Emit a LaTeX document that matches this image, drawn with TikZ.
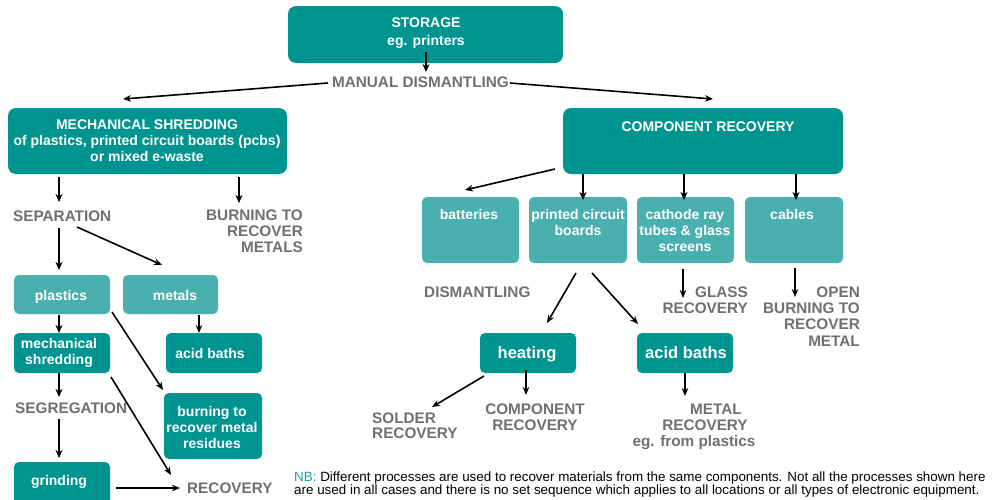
\documentclass[tikz,border=0pt]{standalone}
\usepackage{fontspec}
\setmainfont{Liberation Sans}
\usetikzlibrary{arrows.meta}
\definecolor{tealD}{RGB}{0,148,144}
\definecolor{tealL}{RGB}{74,175,175}
\definecolor{grayT}{RGB}{112,112,112}
\definecolor{tealN}{RGB}{24,160,160}
\newcommand\myfs[2]{\fontsize{#1}{#2}\selectfont}

\begin{document}
\begin{tikzpicture}[x=1pt,y=-1pt,
  arr/.style={-{Stealth[length=8pt,width=6.5pt,inset=2.5pt]}, line width=1.6pt},
  arrT/.style={-{Stealth[length=8pt,width=7pt,inset=2.5pt]}, line width=2.7pt},
  dbox/.style={fill=tealD, rounded corners=8pt, inner sep=0pt},
  sdbox/.style={fill=tealD, rounded corners=5pt, inner sep=0pt},
  lbox/.style={fill=tealL, rounded corners=5pt, inner sep=0pt},
  wtxt/.style={text=white, font=\bfseries\myfs{14}{16}, align=center, inner sep=0pt},
  wbig/.style={text=white, font=\bfseries\myfs{16.5}{18}, inner sep=0pt},
  gtxt/.style={text=grayT, font=\bfseries\myfs{15.3}{16}, inner sep=0pt},
]
\useasboundingbox (0,0) rectangle (993,499);
\begin{scope}
\clip (0,0) rectangle (993,499);

% ---------- boxes ----------
\node[dbox, minimum width=275pt, minimum height=57pt] (storage) at (425.5,34.5) {};
\node[dbox, minimum width=279pt, minimum height=66pt] (mech) at (147.5,141) {};
\node[dbox, minimum width=280pt, minimum height=66pt] (comp) at (703,141) {};

\node[lbox, minimum width=96pt, minimum height=39pt] (plastics) at (62,294.5) {};
\node[lbox, minimum width=95pt, minimum height=39pt] (metals) at (170.5,294.5) {};
\node[sdbox, minimum width=96pt, minimum height=40pt] (mechshred) at (62,353) {};
\node[sdbox, minimum width=96pt, minimum height=40pt] (acidA) at (214,353) {};
\node[sdbox, minimum width=98pt, minimum height=66pt] (burn) at (213,426) {};
\node[sdbox, minimum width=96pt, minimum height=44pt] (grinding) at (62,484) {};

\node[lbox, minimum width=97pt, minimum height=66pt] (batteries) at (470.5,230) {};
\node[lbox, minimum width=98pt, minimum height=66pt] (pcb) at (578,230) {};
\node[lbox, minimum width=97pt, minimum height=66pt] (crt) at (685.5,230) {};
\node[lbox, minimum width=98pt, minimum height=66pt] (cables) at (794,230) {};
\node[sdbox, minimum width=96pt, minimum height=40pt] (heating) at (528,353) {};
\node[sdbox, minimum width=96pt, minimum height=40pt] (acidB) at (685,353) {};

% ---------- box texts ----------
\node[wtxt, font=\bfseries\myfs{14}{18}, anchor=north] (storageT) at (426,18) {STORAGE\\eg. printers};
\node[wtxt, anchor=north] (mechT) at (147,120) {MECHANICAL SHREDDING\\of plastics, printed circuit boards (pcbs)\\or mixed e-waste};
\node[wtxt, anchor=base] (compT) at (708,131) {COMPONENT RECOVERY};
\node[wtxt, anchor=base] (plasticsT) at (61,300) {plastics};
\node[wtxt, anchor=base] (metalsT) at (175,300) {metals};
\node[wtxt, anchor=north] (mechshredT) at (59,338) {mechanical\\shredding};
\node[wtxt, anchor=base] (acidAT) at (210,358) {acid baths};
\node[wtxt, anchor=north] (burnT) at (212,406) {burning to\\recover metal\\residues};
\node[wtxt, anchor=base] (grindingT) at (59,485) {grinding};
\node[wtxt, anchor=base] (batteriesT) at (469,219) {batteries};
\node[wtxt, anchor=north] (pcbT) at (578,209) {printed circuit\\boards};
\node[wtxt, anchor=north] (crtT) at (685,209) {cathode ray\\tubes \& glass\\screens};
\node[wtxt, anchor=base] (cablesT) at (792,219) {cables};
\node[wbig, anchor=base] (heatingT) at (527,358) {heating};
\node[wbig, anchor=base] (acidBT) at (686,358) {acid baths};

% ---------- process labels ----------
\node[gtxt, anchor=base] (manual) at (420.5,87.5) {MANUAL DISMANTLING};
\node[gtxt, anchor=base west] (separation) at (13,221.5) {SEPARATION};
\node[gtxt, align=right, anchor=north east] (burning) at (303,209.5) {BURNING TO\\RECOVER\\METALS};
\node[gtxt, anchor=base west] (segregation) at (15,413.5) {SEGREGATION};
\node[gtxt, anchor=base west] (recovery) at (187,493.5) {RECOVERY};
\node[gtxt, anchor=base west] (dismantling) at (424,297.5) {DISMANTLING};
\node[gtxt, align=right, anchor=north east] (glass) at (748,286.5) {GLASS\\RECOVERY};
\node[gtxt, align=right, anchor=north east, font=\bfseries\myfs{15.3}{16.3}] (open) at (860,286.5) {OPEN\\BURNING TO\\RECOVER\\METAL};
\node[gtxt, align=left, anchor=north west, font=\bfseries\myfs{15.3}{15}] (solder) at (372,412.5) {SOLDER\\RECOVERY};
\node[gtxt, align=center, anchor=north] (component) at (535,403.5) {COMPONENT\\RECOVERY};
\node[gtxt, align=center, anchor=north] (metal) at (705,403.5) {\hspace*{22pt}METAL\\RECOVERY\\eg. from plastics\hspace*{22pt}};

% ---------- note ----------
\node[anchor=north west, inner sep=0pt, align=left, font=\myfs{13.4}{13}] (note) at (294,472)
  {\textcolor{tealN}{NB:} Different processes are used to recover materials from the same components. Not all the processes shown here\\
   are used in all cases and there is no set sequence which applies to all locations or all types of electronic equipment.};

% ---------- connector ends ----------
\coordinate (stoOut) at (426,52);   \coordinate (manIn) at (426,72);
\coordinate (manL) at (328,83);     \coordinate (mechIn) at (123,99);
\coordinate (manR) at (510,83);     \coordinate (compIn) at (713,99);
\coordinate (mechOutA) at (59,177); \coordinate (sepIn) at (59,202);
\coordinate (mechOutB) at (239,177);\coordinate (burnIn) at (239,203);
\coordinate (sepOutA) at (59,228);  \coordinate (plaIn) at (59,270);
\coordinate (sepOutB) at (77,227);  \coordinate (metIn) at (162,265);
\coordinate (plaOutA) at (59,315);  \coordinate (mshIn) at (59,333);
\coordinate (metOut) at (199,315);  \coordinate (acAIn) at (199,333);
\coordinate (plaOutB) at (112,312); \coordinate (brnIn) at (163,390);
\coordinate (mshOutA) at (59,373);  \coordinate (segIn) at (59,397);
\coordinate (mshOutB) at (111,377); \coordinate (recInA) at (171,475);
\coordinate (segOut) at (59,419);   \coordinate (grdIn) at (59,458);
\coordinate (grdOut) at (116,488);  \coordinate (recInB) at (180,488);
\coordinate (compOutA) at (555,169);\coordinate (batIn) at (465,190);
\coordinate (compOutB) at (583,174);\coordinate (pcbIn) at (583,200);
\coordinate (compOutC) at (684,174);\coordinate (crtIn) at (684,200);
\coordinate (compOutD) at (796,174);\coordinate (cabIn) at (796,200);
\coordinate (pcbOutA) at (576,273); \coordinate (heaIn) at (547,323);
\coordinate (pcbOutB) at (592,273); \coordinate (acBIn) at (638,324);
\coordinate (crtOut) at (683,269);  \coordinate (glaIn) at (683,298);
\coordinate (cabOut) at (795,268);  \coordinate (opnIn) at (795,297);
\coordinate (heaOutA) at (484,376); \coordinate (solIn) at (432,407);
\coordinate (heaOutB) at (526,370); \coordinate (cmpIn) at (526,395);
\coordinate (acBOut) at (685,373);  \coordinate (metalIn) at (685,396);

% ---------- connectors ----------
\draw[arrT] (stoOut) -- (manIn);
\draw[arr]  (manL) -- (mechIn);
\draw[arr]  (manR) -- (compIn);
\draw[arrT] (mechOutA) -- (sepIn);
\draw[arrT] (mechOutB) -- (burnIn);
\draw[arrT] (sepOutA) -- (plaIn);
\draw[arr]  (sepOutB) -- (metIn);
\draw[arrT] (plaOutA) -- (mshIn);
\draw[arr]  (metOut) -- (acAIn);
\draw[arr]  (plaOutB) -- (brnIn);
\draw[arrT] (mshOutA) -- (segIn);
\draw[arr]  (mshOutB) -- (recInA);
\draw[arrT] (segOut) -- (grdIn);
\draw[arr]  (grdOut) -- (recInB);
\draw[arr]  (compOutA) -- (batIn);
\draw[arrT] (compOutB) -- (pcbIn);
\draw[arrT] (compOutC) -- (crtIn);
\draw[arrT] (compOutD) -- (cabIn);
\draw[arr]  (pcbOutA) -- (heaIn);
\draw[arr]  (pcbOutB) -- (acBIn);
\draw[arr]  (crtOut) -- (glaIn);
\draw[arr]  (cabOut) -- (opnIn);
\draw[arr]  (heaOutA) -- (solIn);
\draw[arr]  (heaOutB) -- (cmpIn);
\draw[arr]  (acBOut) -- (metalIn);
\end{scope}
\end{tikzpicture}
\end{document}
